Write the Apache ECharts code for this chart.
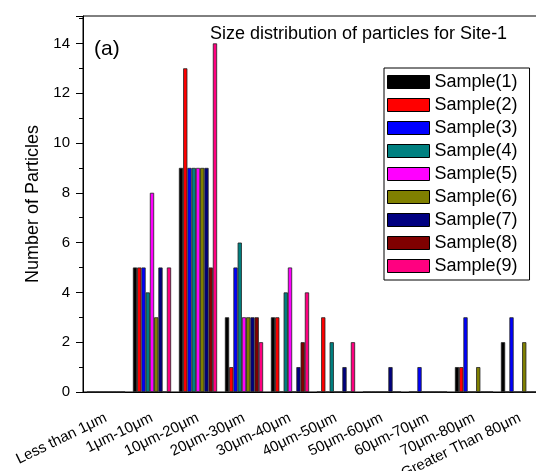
<!DOCTYPE html>
<html>
<head>
<meta charset="utf-8">
<script src="https://cdn.jsdelivr.net/npm/echarts@6/dist/echarts.min.js"></script>
<style>html,body{margin:0;padding:0;background:#fff}#c{width:536px;height:471px}</style>
</head>
<body>
<div id="c"></div>
<script>
const categories = ['Less than 1\u03bcm','1\u03bcm-10\u03bcm','10\u03bcm-20\u03bcm','20\u03bcm-30\u03bcm','30\u03bcm-40\u03bcm','40\u03bcm-50\u03bcm','50\u03bcm-60\u03bcm','60\u03bcm-70\u03bcm','70\u03bcm-80\u03bcm','Greater Than 80\u03bcm'];
const sample1 = [0,5,9,3,3,0,0,0,1,2];
const sample2 = [0,5,13,1,3,3,0,0,1,0];
const sample3 = [0,5,9,5,0,0,0,1,3,3];
const sample4 = [0,4,9,6,4,2,0,0,0,0];
const sample5 = [0,8,9,3,5,0,0,0,0,0];
const sample6 = [0,3,9,3,0,0,0,0,1,2];
const sample7 = [0,5,9,3,1,1,1,0,0,0];
const sample8 = [0,0,5,3,2,0,0,0,0,0];
const sample9 = [0,5,14,2,4,2,0,0,0,0];
const seriesNames = ['Sample(1)','Sample(2)','Sample(3)','Sample(4)','Sample(5)','Sample(6)','Sample(7)','Sample(8)','Sample(9)'];
const seriesData = [sample1,sample2,sample3,sample4,sample5,sample6,sample7,sample8,sample9];
const colors = ['#000000','#FF0000','#0000FF','#008080','#FF00FF','#808000','#000080','#800000','#FF0080'];
const yTicks = [0,2,4,6,8,10,12,14];

const FONT = 'Liberation Sans, Arial, sans-serif';
const chart = echarts.init(document.getElementById('c'), null, {renderer:'canvas'});
chart.setOption({
  animation:false,
  textStyle:{fontFamily:FONT},
  title:{text:'Size distribution of particles for Site-1', left:205, top:20,
    textStyle:{fontFamily:FONT, fontSize:18, fontWeight:'normal', color:'#000'}},
  graphic:[{type:'text', left:94, top:39, style:{text:'(a)', font:'21px '+FONT, fill:'#000'}}],
  legend:{
    orient:'vertical', left:384, top:68, icon:'rect', itemWidth:42, itemHeight:13,
    itemGap:5, itemTextGap:5, padding:[5,12,5,3], borderColor:'#000', borderWidth:1,
    backgroundColor:'#fff',
    itemStyle:{borderColor:'#000', borderWidth:1},
    textStyle:{fontFamily:FONT, fontSize:18, color:'#000', lineHeight:17},
    data:seriesNames
  },
  grid:{left:83, top:16, width:460, height:376, show:true, borderColor:'#000', borderWidth:1,
    containLabel:false, outerBoundsMode:'none'},
  xAxis:[{
    type:'category', data:categories, boundaryGap:true,
    axisLine:{lineStyle:{color:'#000', width:1}},
    axisTick:{alignWithLabel:true, length:7, lineStyle:{color:'#000'}},
    axisLabel:{interval:0, rotate:26, margin:25, fontSize:15, color:'#000', fontFamily:FONT},
    splitLine:{show:false}
  },{
    type:'category', data:categories, boundaryGap:true, position:'bottom',
    axisLine:{show:false}, axisLabel:{show:false},
    axisTick:{length:4, lineStyle:{color:'#000'}}, splitLine:{show:false}
  }],
  yAxis:{
    type:'value', min:0, max:15.1, interval:2,
    name:'Number of Particles', nameLocation:'middle', nameGap:36, nameRotate:90,
    nameTextStyle:{fontFamily:FONT, fontSize:18, color:'#000'},
    axisLine:{show:true, lineStyle:{color:'#000', width:1}},
    axisTick:{show:true, length:7, lineStyle:{color:'#000'}},
    minorTick:{show:true, splitNumber:2, length:4, lineStyle:{color:'#000'}},
    axisLabel:{fontSize:15, color:'#000', margin:13, fontFamily:FONT,
      formatter:function(v){return yTicks.indexOf(v)>=0?String(v):'';}},
    splitLine:{show:false}
  },
  series:seriesNames.map(function(n,i){return {
    name:n, type:'bar', data:seriesData[i], barGap:'0%', barCategoryGap:'17%',
    itemStyle:{color:colors[i], borderColor:'#222', borderWidth:0.8}
  };})
});
</script>
</body>
</html>
